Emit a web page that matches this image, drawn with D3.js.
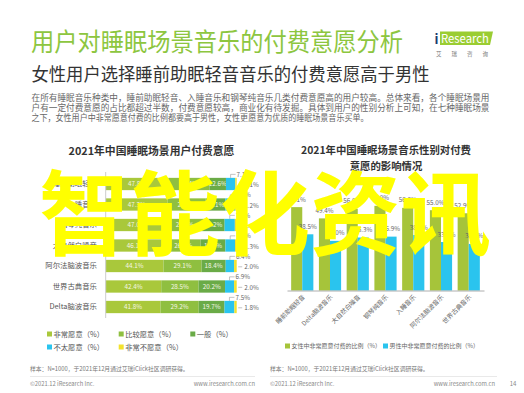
<!DOCTYPE html>
<html><head><meta charset="utf-8">
<script src="https://cdn.jsdelivr.net/npm/d3@7"></script>
<style>
html,body{margin:0;padding:0;background:#fff;}
svg{display:block;font-family:"Noto Sans CJK SC","Noto Sans",sans-serif;}
</style></head>
<body>
<script>
// ---------- data ----------
const leftCats = ["睡前助眠轻音","入睡音乐","钢琴纯音乐","大自然白噪音","阿尔法脑波音乐","世界古典音乐","Delta脑波音乐"];
const veryWilling   = [47.8, 47.3, 47.0, 46.1, 44.1, 42.4, 41.8];
const fairlyWilling = [31.4, 28.9, 26.6, 26.3, 29.1, 28.5, 29.2];
const neutral       = [12.6, 15.1, 17.2, 19.0, 18.4, 20.2, 19.7];
const notVery       = [7.1, 7.5, 7.8, 7.3, 6.4, 6.9, 7.5];
const notAtAll      = [1.1, 1.2, 1.4, 1.3, 2.0, 2.0, 1.8];
const leftSeriesNames = ["非常愿意（%）","比较愿意（%）","一般（%）","不太愿意（%）","非常不愿意（%）"];

const rightCats = ["睡前助眠轻音","Delta脑波音乐","大自然白噪音","钢琴纯音乐","入睡音乐","阿尔法脑波音乐","世界古典音乐"];
const femaleVery = [57.1, 49.4, 56.0, 58.0, 56.6, 55.0, 52.9];
const maleVery   = [38.5, 34.0, 36.3, 36.9, 38.0, 33.2, 31.9];
const rightSeriesNames = ["女性中非常愿意付费的比例（%）","男性中非常愿意付费的比例（%）"];

const pageTitle = "用户对睡眠场景音乐的付费意愿分析";
const pageSubtitle = "女性用户选择睡前助眠轻音音乐的付费意愿高于男性";
const paraLines = [
 "在所有睡眠音乐种类中，睡前助眠轻音、入睡音乐和钢琴纯音乐几类付费意愿高的用户较高。总体来看，各个睡眠场景用",
 "户有一定付费意愿的占比都超过半数，付费意愿较高，商业化有待发掘。具体到用户的性别分析上可知，在七种睡眠场景",
 "之下，女性用户中非常愿意付费的比例都要高于男性，女性更愿意为优质的睡眠场景音乐买单。"
];
const leftTitle = "2021年中国睡眠场景用户付费意愿";
const rightTitle = ["2021年中国睡眠场景音乐性别对付费","意愿的影响情况"];
const sourceText = "样本：N=1000，于2021年12月通过艾瑞iClick社区调研获得。";
const copyText = "©2021.12 iResearch Inc.";
const siteText = "www.iresearch.com.cn";
const pageNum = "14";
const overlayText = "智能化资讯";

// ---------- styles ----------
const leftColors = ["#a9c83b","#8fbf40","#6aab47","#2ac4ee","#f3e22c"];
const rightColors = ["#a6c43a","#2ac4ee"];

const W = 524, H = 393;
const svg = d3.select("body").append("svg").attr("width", W).attr("height", H);
svg.append("rect").attr("width", W).attr("height", H).attr("fill", "#fff");

// ---------- header ----------
svg.append("text").attr("x", 31).attr("y", 51).attr("font-size", 24.5).attr("fill", "#8dc63f")
  .attr("textLength", 372).attr("lengthAdjust", "spacingAndGlyphs").text(pageTitle);
svg.append("text").attr("x", 31.5).attr("y", 81.3).attr("font-size", 18).attr("fill", "#333")
  .attr("textLength", 398).attr("lengthAdjust", "spacingAndGlyphs").text(pageSubtitle);
const paraLens = [458, 458, 337];
paraLines.forEach((t, i) => {
  svg.append("text").attr("x", 31.5).attr("y", 101.3 + i * 9.6).attr("font-size", 8.6).attr("fill", "#666")
    .attr("textLength", paraLens[i]).attr("lengthAdjust", "spacingAndGlyphs").text(t);
});
// logo
svg.append("path").attr("d", "M440,31.5 L493,31.5 L490,45 L440,45 Z").attr("fill", "#9acd32");
svg.append("text").attr("x", 434.5).attr("y", 43.5).attr("font-size", 13).attr("font-weight", "bold")
  .attr("fill", "#1d3c6e").text("i");
svg.append("text").attr("x", 441).attr("y", 43).attr("font-size", 12).attr("fill", "#fff")
  .attr("textLength", 48).attr("lengthAdjust", "spacingAndGlyphs").text("Research");
svg.append("text").attr("x", 436).attr("y", 55.5).attr("font-size", 5.5).attr("fill", "#777")
  .attr("textLength", 52).attr("lengthAdjust", "spacing").text("艾瑞咨询");

// ---------- left chart ----------
svg.append("text").attr("x", 151.5).attr("y", 154.5).attr("text-anchor", "middle").attr("font-size", 10.8)
  .attr("font-weight", "bold").attr("fill", "#333").text(leftTitle);

const xL = d3.scaleLinear().domain([0, 100]).range([105.7, 236.7]);
const yL = d3.scaleBand().domain(leftCats).range([169.65, 321.35]).padding(0.4);
const leftSeries = [veryWilling, fairlyWilling, neutral, notVery, notAtAll];
const rows = leftCats.map((c, i) => {
  const o = {cat: c};
  leftSeries.forEach((s, k) => o["s" + k] = s[i]);
  return o;
});
const stack = d3.stack().keys(["s0","s1","s2","s3","s4"])(rows);
const gL = svg.append("g");
stack.forEach((layer, k) => {
  gL.selectAll(null).data(layer).join("rect")
    .attr("x", d => xL(d[0])).attr("width", d => xL(d[1]) - xL(d[0]))
    .attr("y", d => yL(d.data.cat)).attr("height", yL.bandwidth())
    .attr("fill", leftColors[k]);
  if (k < 3) {
    gL.selectAll(null).data(layer).join("text")
      .attr("x", d => (xL(d[0]) + xL(d[1])) / 2).attr("y", d => yL(d.data.cat) + yL.bandwidth() / 2 + 2.2)
      .attr("text-anchor", "middle").attr("font-size", 6.3).attr("fill", "#f6f6e6")
      .text(d => d.data["s" + k].toFixed(1) + "%");
  }
});
// not very willing labels (above, leader)
stack[3].forEach(d => {
  const cx = (xL(d[0]) + xL(d[1])) / 2, top = yL(d.data.cat), ly = top - 3.5;
  gL.append("path").attr("d", `M${cx},${top} L${cx},${ly} L${cx + 5},${ly}`)
    .attr("fill", "none").attr("stroke", "#999").attr("stroke-width", 0.6);
  gL.append("text").attr("x", cx + 6).attr("y", ly + 2.2).attr("font-size", 6.3).attr("fill", "#666")
    .text(d.data.s3.toFixed(1) + "%");
});
stack[4].forEach(d => {
  const ex = xL(d[1]), cy = yL(d.data.cat) + yL.bandwidth() / 2 + 0.8;
  gL.append("line").attr("x1", ex + 1.5).attr("x2", ex + 5.5).attr("y1", cy).attr("y2", cy)
    .attr("stroke", "#999").attr("stroke-width", 0.6);
  gL.append("text").attr("x", ex + 7.5).attr("y", cy + 2.2).attr("font-size", 6.3).attr("fill", "#666")
    .text(d.data.s4.toFixed(1) + "%");
});
// y axis
const axL = gL.append("g").attr("transform", `translate(${xL(0)},0)`)
  .call(d3.axisLeft(yL).tickSize(0).tickPadding(8.7));
axL.select(".domain").attr("stroke", "#ccc").attr("d", "M0,172V318");
axL.selectAll("text").attr("font-size", 7.4).attr("fill", "#555").attr("font-family", "Noto Sans CJK SC");
// legend
const legL = [[50, 334], [121.7, 334], [193.3, 334], [50, 347], [121.7, 347]];
leftSeriesNames.forEach((n, k) => {
  const [lx, ly] = legL[k];
  svg.append("rect").attr("x", lx - 3).attr("y", ly - 2.5).attr("width", 5).attr("height", 5).attr("fill", leftColors[k]);
  svg.append("text").attr("x", lx + 3.5).attr("y", ly + 2.6).attr("font-size", 7.3).attr("fill", "#555").text(n);
});

// ---------- right chart ----------
rightTitle.forEach((t, i) => {
  svg.append("text").attr("x", 386).attr("y", 154 + i * 16.2).attr("text-anchor", "middle").attr("font-size", 10.4)
    .attr("font-weight", "bold").attr("fill", "#333").text(t);
});
const xR = d3.scaleBand().domain(rightCats).range([287, 484]).paddingInner(0.2).paddingOuter(0.15);
const xR2 = d3.scaleBand().domain([0, 1]).range([0, xR.bandwidth()]);
const yR = d3.scaleLinear().domain([0, 70]).range([290.5, 290.5 - 70 * 1.46]);
const gR = svg.append("g");
[femaleVery, maleVery].forEach((vals, k) => {
  gR.selectAll(null).data(vals).join("rect")
    .attr("x", (d, i) => xR(rightCats[i]) + xR2(k)).attr("width", xR2.bandwidth())
    .attr("y", d => yR(d)).attr("height", d => yR(0) - yR(d)).attr("fill", rightColors[k]);
  gR.selectAll(null).data(vals).join("text")
    .attr("x", (d, i) => xR(rightCats[i]) + xR2(k) + xR2.bandwidth() / 2).attr("y", d => yR(d) - 5.5)
    .attr("text-anchor", "middle").attr("font-size", 6.3).attr("fill", "#666")
    .text(d => d.toFixed(1) + "%");
});
const axR = gR.append("g").attr("transform", `translate(0,${yR(0)})`)
  .call(d3.axisBottom(xR).tickSize(0).tickPadding(0));
axR.select(".domain").attr("stroke", "#999").attr("stroke-width", 0.8);
axR.selectAll(".tick text").attr("font-size", 6.3).attr("fill", "#666").attr("font-family", "Noto Sans CJK SC")
  .attr("text-anchor", "end").attr("dy", 0).attr("y", 0)
  .attr("transform", "translate(3,7) rotate(-45)");
const legR = [[288, 346], [386, 346]];
rightSeriesNames.forEach((n, k) => {
  const [lx, ly] = legR[k];
  svg.append("rect").attr("x", lx - 3).attr("y", ly - 2.5).attr("width", 5).attr("height", 5).attr("fill", rightColors[k]);
  svg.append("text").attr("x", lx + 3.5).attr("y", ly + 2.2).attr("font-size", 6).attr("fill", "#666").text(n);
});

// ---------- footers ----------
[[30, 255], [270, 497]].forEach(([x0, x1], i) => {
  svg.append("text").attr("x", x0).attr("y", 370.5).attr("font-size", 5.8).attr("fill", "#777").text(sourceText);
  svg.append("line").attr("x1", x0).attr("x2", x1).attr("y1", 376.5).attr("y2", 376.5).attr("stroke", "#e3e3e3").attr("stroke-width", 0.8);
  svg.append("text").attr("x", x0).attr("y", 386).attr("font-size", 5.8).attr("fill", "#888").text(copyText);
  svg.append("text").attr("x", i === 0 ? 255 : 495).attr("y", 386).attr("text-anchor", "end").attr("font-size", 5.8).attr("fill", "#888").text(siteText);
});
svg.append("text").attr("x", 513).attr("y", 386).attr("text-anchor", "middle").attr("font-size", 6).attr("fill", "#888").text(pageNum);

// ---------- overlay ----------
svg.append("text").attr("x", 265).attr("y", 248).attr("text-anchor", "middle").attr("font-size", 92)
  .attr("font-weight", "bold").attr("fill", "#ffff00")
  .attr("textLength", 452).attr("lengthAdjust", "spacingAndGlyphs").text(overlayText);
</script>
</body></html>
